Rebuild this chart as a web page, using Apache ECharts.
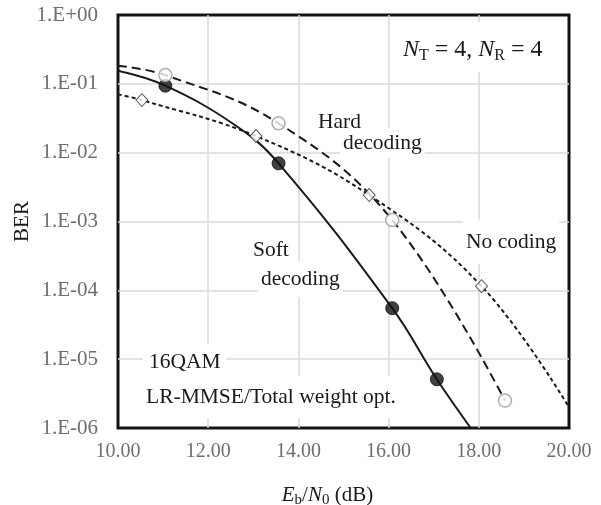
<!DOCTYPE html>
<html>
<head>
<meta charset="utf-8">
<script src="https://cdn.jsdelivr.net/npm/echarts@6/dist/echarts.min.js"></script>
<style>
  html, body { margin: 0; padding: 0; background: #fff; }
  #chart { width: 601px; height: 505px; }
</style>
</head>
<body>
<div id="chart"></div>
<script>
// Eb/N0 (dB) vs BER
const xTicks = [10, 12, 14, 16, 18, 20]

// soft decoding (filled circles + solid fitted curve)
const softX = [11.05, 13.56, 16.08, 17.07]
const softY = [0.094, 0.007, 5.5e-5, 5.1e-6]
const softCurveX = [10, 11.05, 12.6, 13.56, 16.08, 17.07, 17.82]
const softCurveY = [0.155, 0.094, 0.025, 0.007, 5.5e-5, 5.1e-6, 1e-6]

// hard decoding (open circles + long dashes)
const hardX = [11.05, 13.56, 16.08, 18.58]
const hardY = [0.134, 0.0267, 1.05e-3, 2.5e-6]
const hardCurveX = [10, 11.05, 13.56, 16.08, 18.58]
const hardCurveY = [0.183, 0.134, 0.0267, 1.05e-3, 2.5e-6]

// no coding (diamonds + short dashes)
const noX = [10.53, 13.06, 15.57, 18.06]
const noY = [0.058, 0.0174, 2.42e-3, 1.15e-4]
const noCurveX = [10, 10.53, 13.06, 15.57, 18.06, 20]
const noCurveY = [0.0703, 0.058, 0.0174, 2.42e-3, 1.15e-4, 2.0e-6]

const zip = (xs, ys) => xs.map((x, i) => [x, ys[i]])

const FONT = '"Liberation Serif", "DejaVu Serif", serif'
const chart = echarts.init(document.getElementById('chart'))

const textBox = (x, y, text, pad, z) => ({
  type: 'text',
  x: x,
  y: y,
  z: z || 50,
  style: {
    text: text,
    font: '21.5px ' + FONT,
    fill: '#1a1a1a',
    verticalAlign: 'middle',
    backgroundColor: '#fff',
    padding: pad || [2, 3, 2, 3],
  },
})

const option = {
  animation: false,
  backgroundColor: '#fff',
  grid: {
    left: 118,
    top: 15,
    right: 32,
    bottom: 77,
    containLabel: false,
    outerBoundsMode: 'none',
    show: true,
    borderColor: '#141414',
    borderWidth: 3,
  },
  xAxis: {
    type: 'value',
    min: 10,
    max: 20,
    interval: 2,
    axisLine: { show: false },
    axisTick: { show: false },
    axisLabel: {
      margin: 14,
      color: '#6e6e6e',
      fontFamily: FONT,
      fontSize: 20,
      formatter: (v) => (xTicks.includes(v) ? v.toFixed(2) : ''),
    },
    splitLine: {
      show: true,
      showMinLine: false,
      showMaxLine: false,
      lineStyle: { color: '#d8dae2', width: 1.5 },
    },
    name: '{i|E}{s|b}{n|/}{i|N}{s|0}{n| (dB)}',
    nameLocation: 'middle',
    nameGap: 55,
    nameTextStyle: {
      fontFamily: FONT,
      fontSize: 21,
      color: '#1a1a1a',
      padding: [0, 32, 0, 0],
      rich: {
        i: { fontFamily: FONT, fontSize: 21, fontStyle: 'italic', color: '#1a1a1a' },
        n: { fontFamily: FONT, fontSize: 21, color: '#1a1a1a' },
        s: { fontFamily: FONT, fontSize: 15, color: '#1a1a1a', padding: [10, 0, 0, 0] },
      },
    },
  },
  yAxis: {
    type: 'log',
    logBase: 10,
    min: 1e-6,
    max: 1,
    splitNumber: 6,
    axisLine: { show: false },
    axisTick: { show: false },
    axisLabel: {
      margin: 20,
      color: '#6e6e6e',
      fontFamily: FONT,
      fontSize: 21,
      formatter: (v) => {
        const e = Math.round(Math.log10(v))
        const a = Math.abs(e)
        return '1.E' + (e < 0 ? '-' : '+') + (a < 10 ? '0' : '') + a
      },
    },
    splitLine: {
      show: true,
      showMinLine: false,
      showMaxLine: false,
      lineStyle: { color: '#d8dae2', width: 1.5 },
    },
    minorSplitLine: { show: false },
    name: 'BER',
    nameLocation: 'middle',
    nameGap: 85,
    nameMoveOverlap: false,
    nameTextStyle: { fontFamily: FONT, fontSize: 21, color: '#1a1a1a' },
  },
  series: [
    {
      name: 'Soft curve',
      type: 'line',
      data: zip(softCurveX, softCurveY),
      smooth: 0.4,
      showSymbol: false,
      lineStyle: { color: '#1a1a1a', width: 2 },
      z: 3,
    },
    {
      name: 'Hard curve',
      type: 'line',
      data: zip(hardCurveX, hardCurveY),
      smooth: 0.4,
      showSymbol: false,
      lineStyle: { color: '#1a1a1a', width: 2, type: [9, 5] },
      z: 3,
    },
    {
      name: 'No coding curve',
      type: 'line',
      data: zip(noCurveX, noCurveY),
      smooth: 0.4,
      showSymbol: false,
      lineStyle: { color: '#1a1a1a', width: 2, type: [4, 3] },
      z: 3,
    },
    {
      name: 'Soft decoding',
      type: 'scatter',
      data: zip(softX, softY),
      symbol: 'circle',
      symbolSize: 13,
      itemStyle: { color: '#111', borderColor: '#111', borderWidth: 1 },
      z: 5,
    },
    {
      name: 'Hard decoding',
      type: 'scatter',
      data: zip(hardX, hardY),
      symbol: 'circle',
      symbolSize: 13,
      itemStyle: { color: '#fff', borderColor: '#9a9a9a', borderWidth: 1.5 },
      z: 5,
    },
    {
      name: 'No coding',
      type: 'scatter',
      data: zip(noX, noY),
      symbol: 'diamond',
      symbolSize: [12, 13],
      itemStyle: { color: '#fff', borderColor: '#333', borderWidth: 1 },
      z: 5,
    },
  ],
  graphic: [
    {
      type: 'text',
      x: 397,
      y: 47,
      z: 50,
      style: {
        text: '{i|N}{s|T}{n| = 4, }{i|N}{s|R}{n| = 4}',
        verticalAlign: 'middle',
        backgroundColor: '#fff',
        padding: [14, 6, 8, 6],
        rich: {
          i: { fontFamily: FONT, fontSize: 24, fontStyle: 'italic', fill: '#1a1a1a' },
          n: { fontFamily: FONT, fontSize: 24, fill: '#1a1a1a' },
          s: { fontFamily: FONT, fontSize: 16, fill: '#1a1a1a', padding: [12, 0, 0, 0] },
        },
      },
    },
    textBox(340, 143, 'decoding', [6, 3, 2, 3], 50),
    textBox(315, 122, 'Hard', [2, 3, 0, 3], 51),
    textBox(258, 279, 'decoding', [8, 3, 6, 3], 50),
    textBox(250, 250, 'Soft', [2, 3, 0, 3], 51),
    textBox(463, 242, 'No coding', [10, 3, 12, 3]),
    textBox(143, 362, '16QAM', [8, 6, 6, 6]),
    textBox(140, 397, 'LR-MMSE/Total weight opt.', [10, 6, 10, 6]),
  ],
}

chart.setOption(option)
</script>
</body>
</html>
